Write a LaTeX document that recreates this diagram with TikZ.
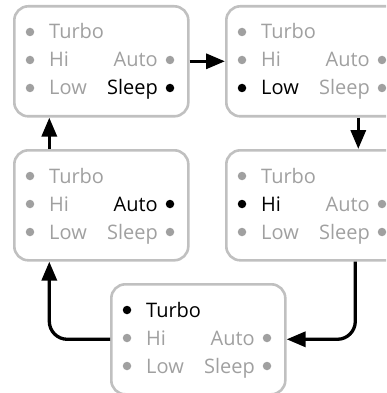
\documentclass[tikz,border=0pt]{standalone}
\usepackage{fontspec}
\setmainfont{Open Sans}
\usetikzlibrary{arrows.meta}
\definecolor{framegray}{RGB}{192,192,192}
\definecolor{idlegray}{RGB}{160,160,160}

% one panel of the fan switch: name, top left corner, entry that is lit
\newcommand{\fanpanel}[3]{%
  \begin{scope}[shift={(#2)},
      turboentry/.style={},hientry/.style={},lowentry/.style={},
      autoentry/.style={},sleepentry/.style={},#3/.style={lit}]
    \node[panel,anchor=north west] (#1) at (0,0) {};
    % left column
    \node[dot,turboentry] (#1-turbo-dot) at (17,27) {};
    \node[entry,anchor=base west,turboentry] (#1-turbo) at (36,34) {Turbo};
    \node[dot,hientry] (#1-hi-dot) at (17,55) {};
    \node[entry,anchor=base west,hientry] (#1-hi) at (36,62) {Hi};
    \node[dot,lowentry] (#1-low-dot) at (17,83) {};
    \node[entry,anchor=base west,lowentry] (#1-low) at (36,90) {Low};
    % right column
    \node[dot,autoentry] (#1-auto-dot) at (157,55) {};
    \node[entry,anchor=base east,autoentry] (#1-auto) at (145,62) {Auto};
    \node[dot,sleepentry] (#1-sleep-dot) at (157,83) {};
    \node[entry,anchor=base east,sleepentry] (#1-sleep) at (145,90) {Sleep};
  \end{scope}}

\begin{document}
\begin{tikzpicture}[x=1pt,y=-1pt,
    panel/.style={draw=framegray,line width=2.6pt,rounded corners=14pt,
      minimum width=174pt,minimum height=110pt,inner sep=0pt},
    entry/.style={color=idlegray,inner sep=0pt,font=\fontsize{20}{22}\selectfont},
    dot/.style={circle,fill,color=idlegray,inner sep=0pt,minimum size=8.5pt},
    lit/.style={color=black},
    link/.style={line width=3.3pt,-{Triangle[length=19pt,width=15pt]},rounded corners=18pt}]

    \useasboundingbox (0,0) rectangle (386,393);
    \clip (0,0) rectangle (386,393);

    % Panels
    \fanpanel{sleepmode}{13,5}{sleepentry}
    \fanpanel{lowmode}{225,5}{lowentry}
    \fanpanel{automode}{13,149}{autoentry}
    \fanpanel{himode}{225,149}{hientry}
    \fanpanel{turbomode}{110,283}{turboentry}

    % Arrows
    \draw[link] (sleepmode.east) -- (lowmode.west);
    \draw[link] ([xshift=45pt]lowmode.south) -- ([xshift=45pt]himode.north);
    \draw[link] ([xshift=42pt]himode.south) |- (turbomode.east);
    \draw[link] (turbomode.west) -| ([xshift=-52pt]automode.south);
    \draw[link] ([xshift=-52pt]automode.north) -- ([xshift=-52pt]sleepmode.south);

\end{tikzpicture}
\end{document}
